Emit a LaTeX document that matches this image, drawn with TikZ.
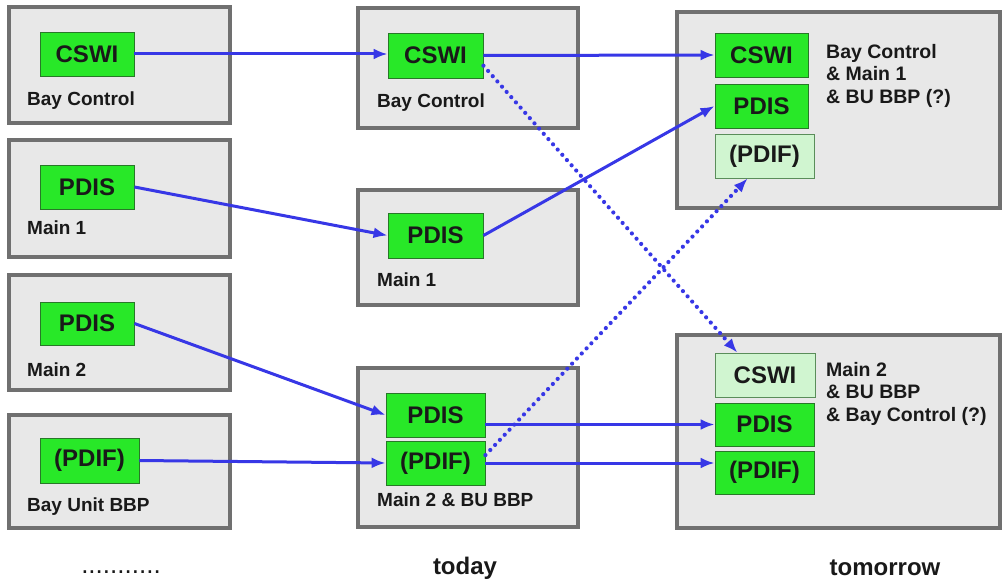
\documentclass[tikz,border=0pt]{standalone}
\usepackage{fontspec}
\setmainfont{Liberation Sans}
\usetikzlibrary{arrows.meta}
\definecolor{boxfill}{RGB}{232,232,232}
\definecolor{boxline}{RGB}{112,112,112}
\definecolor{lngreen}{RGB}{40,232,40}
\definecolor{lngreenline}{RGB}{40,120,40}
\definecolor{lightgreen}{RGB}{208,245,208}
\definecolor{arrowblue}{RGB}{55,55,230}
\definecolor{txt}{RGB}{25,25,25}
\tikzset{
  device/.style={draw=boxline, fill=boxfill, line width=4.5pt, inner sep=0pt},
  ln/.style={draw=lngreenline, fill=lngreen, line width=0.9pt, inner sep=0pt,
    text=txt, font=\fontsize{24}{24}\selectfont\bfseries},
  lnlight/.style={ln, fill=lightgreen, draw=boxline!80!green},
  lbl/.style={anchor=west, inner sep=0pt, text=txt, font=\fontsize{19}{19}\selectfont\bfseries},
  rlbl/.style={anchor=north west, inner sep=0pt, align=left, text=txt,
    font=\fontsize{19.5}{22.5}\selectfont\bfseries},
  title/.style={inner sep=0pt, text=txt, font=\fontsize{24}{24}\selectfont\bfseries},
  link/.style={draw=arrowblue, line width=3pt, -{Latex[length=14pt,width=11pt]}},
  dotlink/.style={draw=arrowblue, line width=4.2pt, dash pattern=on 0pt off 7pt,
    line cap=round, -{Latex[length=14pt,width=11pt]}}
}
\begin{document}
\begin{tikzpicture}[x=1pt,y=-1pt]
\useasboundingbox (0,0) rectangle (1007,586);
% outer devices
\node[device, minimum width=221pt, minimum height=116pt] (lb1) at (119.5,65) {};
\node[device, minimum width=221pt, minimum height=117pt] (lb2) at (119.5,198.5) {};
\node[device, minimum width=221pt, minimum height=115pt] (lb3) at (119.5,332.5) {};
\node[device, minimum width=221pt, minimum height=113pt] (lb4) at (119.5,471.5) {};
\node[device, minimum width=220pt, minimum height=120pt] (mb1) at (468,68) {};
\node[device, minimum width=220pt, minimum height=115pt] (mb2) at (468,247.5) {};
\node[device, minimum width=220pt, minimum height=159pt] (mb3) at (468,447.5) {};
\node[device, minimum width=323pt, minimum height=196pt] (rb1) at (838.5,110) {};
\node[device, minimum width=323pt, minimum height=193pt] (rb2) at (838.5,431.5) {};
% logical nodes
\node[ln, minimum width=94pt, minimum height=44pt] (lcswi) at (87,54) {CSWI};
\node[ln, minimum width=94pt, minimum height=44pt] (lpdis1) at (87,187) {PDIS};
\node[ln, minimum width=94pt, minimum height=43pt] (lpdis2) at (87,323.5) {PDIS};
\node[ln, minimum width=99pt, minimum height=45pt] (lpdif) at (89.5,460.5) {(PDIF)};
\node[ln, minimum width=95pt, minimum height=45pt] (mcswi) at (435.5,55.5) {CSWI};
\node[ln, minimum width=95pt, minimum height=45pt] (mpdis1) at (435.5,235.5) {PDIS};
\node[ln, minimum width=99pt, minimum height=44pt] (mpdis2) at (435.5,415) {PDIS};
\node[ln, minimum width=99pt, minimum height=44pt] (mpdif) at (435.5,463) {(PDIF)};
\node[ln, minimum width=93pt, minimum height=44pt] (rcswi) at (761.5,55) {CSWI};
\node[ln, minimum width=93pt, minimum height=44pt] (rpdis) at (761.5,106) {PDIS};
\node[lnlight, minimum width=99pt, minimum height=44pt] (rpdif) at (764.5,156) {(PDIF)};
\node[lnlight, minimum width=100pt, minimum height=44pt] (r2cswi) at (765,375) {CSWI};
\node[ln, minimum width=99pt, minimum height=43pt] (r2pdis) at (764.5,424.5) {PDIS};
\node[ln, minimum width=99pt, minimum height=43pt] (r2pdif) at (764.5,472.5) {(PDIF)};
% labels
\node[lbl] (tlb1) at (27,101) {Bay Control};
\node[lbl] (tlb2) at (27,228) {Main 1};
\node[lbl] (tlb3) at (27,370) {Main 2};
\node[lbl] (tlb4) at (27,507) {Bay Unit BBP};
\node[lbl] (tmb1) at (377,103) {Bay Control};
\node[lbl] (tmb2) at (377,280) {Main 1};
\node[lbl] (tmb3) at (377,500) {Main 2 \& BU BBP};
\node[rlbl] (trb1) at (826,44) {Bay Control\\\& Main 1\\\& BU BBP (?)};
\node[rlbl] (trb2) at (826,362) {Main 2\\\& BU BBP\\\& Bay Control (?)};
% column titles
\node[inner sep=0pt, text=txt, font=\fontsize{26}{26}\selectfont] (tdots) at (121,572) {...........};
\node[title] (ttoday) at (465,568) {today};
\node[title] (ttomorrow) at (885,568) {tomorrow};
% connectors
\draw[link] (lcswi.east) -- (mcswi.west |- lcswi.east);
\draw[link] (lpdis1.east) -- (mpdis1.west);
\draw[link] (lpdis2.east) -- (mpdis2.west);
\draw[link] (lpdif.east) -- (mpdif.west);
\draw[link] (mcswi.east) -- (rcswi.west);
\draw[link] (mpdis1.east) -- (rpdis.west);
\draw[link] (mpdis2.east |- r2pdis.west) -- (r2pdis.west);
\draw[link] (mpdif.east) -- (mpdif.east -| r2pdif.west);
\draw[dotlink] (mcswi.-12) -- (r2cswi.141);
\draw[dotlink] (mpdif.9) -- (rpdif.233);
\end{tikzpicture}
\end{document}
